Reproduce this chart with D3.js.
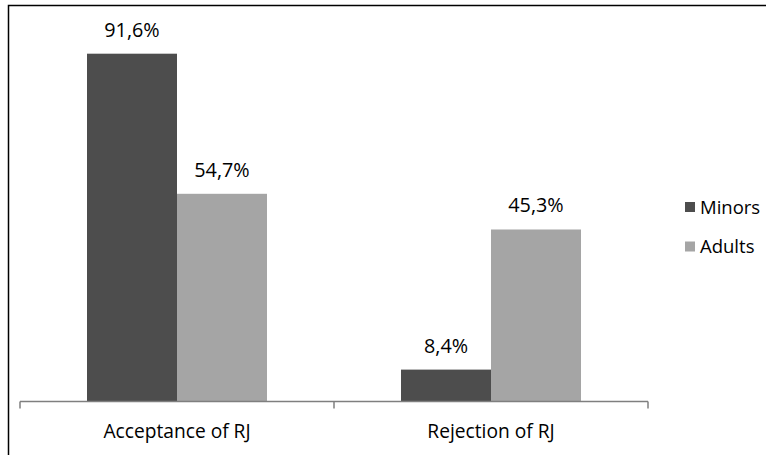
<!DOCTYPE html>
<html>
<head>
<meta charset="utf-8">
<script src="https://cdn.jsdelivr.net/npm/d3@7/dist/d3.min.js"></script>
<style>
  html, body { margin: 0; padding: 0; background: #fff; }
  svg { display: block; }
  text { font-family: "Open Sans", sans-serif; fill: #000; }
</style>
</head>
<body>
<svg id="chart" width="766" height="455"></svg>
<script>
// Shares of respondents accepting / rejecting restorative justice
const categories = ["Acceptance of RJ", "Rejection of RJ"];
const seriesNames = ["Minors", "Adults"];
const minors = [91.6, 8.4];
const adults = [54.7, 45.3];
const seriesColors = ["#4d4d4d", "#a5a5a5"];

const fmt = v => v.toFixed(1).replace(".", ",") + "%";

const svg = d3.select("#chart");

// Outer frame (top and left edges)
svg.append("path")
  .attr("d", "M8.5,455 V5.5 H766")
  .attr("fill", "none")
  .attr("stroke", "#000")
  .attr("stroke-width", 1.5);

const plot = { left: 20, right: 648, bottom: 401.5 };

const x = d3.scaleBand().domain(categories).range([plot.left, plot.right]).paddingInner(0).paddingOuter(0);
const y = d3.scaleLinear().domain([0, 100]).range([plot.bottom, 21.8]);

const barW = 90;
const inner = d3.scaleBand().domain(seriesNames)
  .range([(x.bandwidth() - 2 * barW) / 2, (x.bandwidth() + 2 * barW) / 2]);

const rows = categories.map((c, i) => ({ cat: c, vals: [minors[i], adults[i]] }));

const groups = svg.append("g").selectAll("g").data(rows).join("g")
  .attr("transform", d => `translate(${x(d.cat)},0)`);

groups.selectAll("rect").data(d => d.vals.map((v, j) => ({ s: seriesNames[j], v, j })))
  .join("rect")
  .attr("x", d => inner(d.s))
  .attr("width", inner.bandwidth())
  .attr("y", d => y(d.v))
  .attr("height", d => y(0) - y(d.v))
  .attr("fill", d => seriesColors[d.j]);

groups.selectAll("text.val").data(d => d.vals.map((v, j) => ({ s: seriesNames[j], v, j })))
  .join("text")
  .attr("class", "val")
  .attr("x", d => inner(d.s) + inner.bandwidth() / 2)
  .attr("y", d => y(d.v) - 17)
  .attr("text-anchor", "middle")
  .style("font-size", "19.8px")
  .text(d => fmt(d.v));

// Category axis with ticks at band boundaries
const axis = d3.axisBottom(x).tickSize(0).tickPadding(0);
const axisG = svg.append("g").attr("transform", `translate(0,${plot.bottom})`).call(axis);
axisG.select(".domain").remove();
axisG.selectAll("text")
  .attr("y", 36).attr("dy", null)
  .attr("fill", "#000")
  .style("font-size", "19.2px")
  .style("font-family", "'Open Sans', sans-serif");

const edges = d3.range(categories.length + 1).map(i => plot.left + i * x.step());
svg.append("line")
  .attr("x1", plot.left).attr("x2", plot.right)
  .attr("y1", plot.bottom).attr("y2", plot.bottom)
  .attr("stroke", "#7f7f7f").attr("stroke-width", 1.5);
svg.append("g").selectAll("line").data(edges).join("line")
  .attr("x1", d => d).attr("x2", d => d)
  .attr("y1", plot.bottom).attr("y2", plot.bottom + 7)
  .attr("stroke", "#7f7f7f").attr("stroke-width", 1.5);

// Legend
const legend = svg.append("g").attr("transform", "translate(685,202)");
const items = legend.selectAll("g").data(seriesNames).join("g")
  .attr("transform", (d, i) => `translate(0,${i * 39.5})`);
items.append("rect").attr("width", 10).attr("height", 10)
  .attr("fill", (d, i) => seriesColors[i]);
items.append("text").attr("x", 15).attr("y", 11.5)
  .style("font-size", "18.5px").text(d => d);
</script>
</body>
</html>
